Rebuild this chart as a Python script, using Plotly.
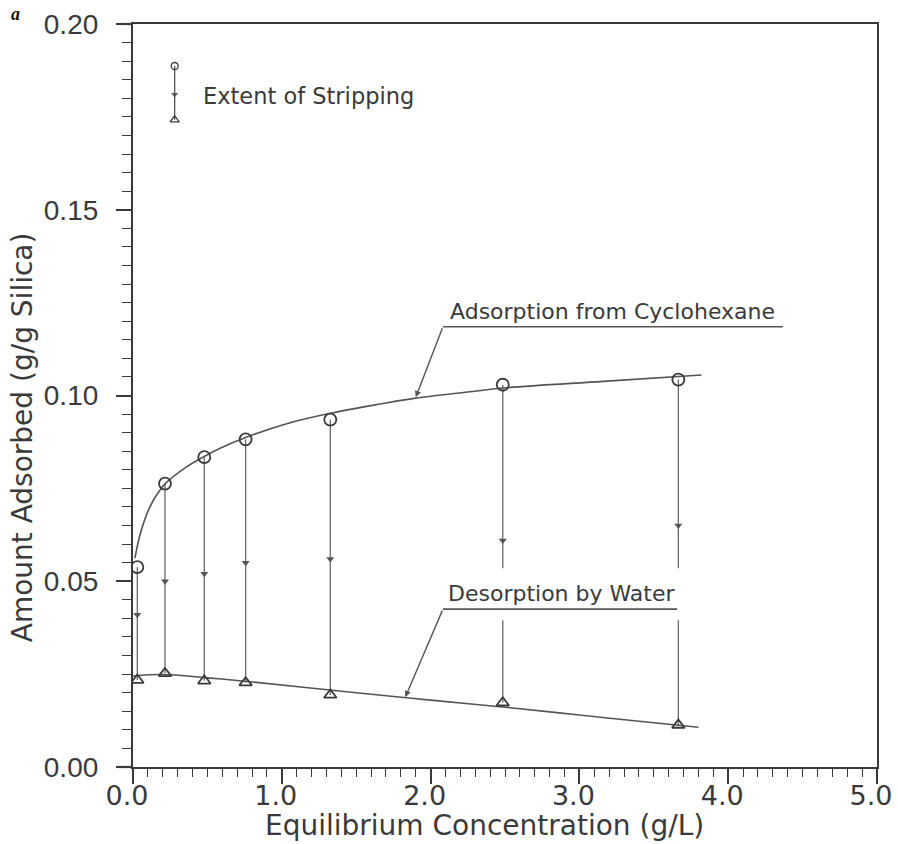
import plotly.graph_objects as go

# ---------------- data ----------------
conc = [0.029, 0.215, 0.479, 0.757, 1.326, 2.485, 3.665]          # g/L
adsorbed = [0.0538, 0.0763, 0.0834, 0.0882, 0.0935, 0.1029, 0.1043]  # from cyclohexane
desorbed = [0.0234, 0.0252, 0.0232, 0.0227, 0.0194, 0.0173, 0.0113]  # after water
arrow_y = [0.041, 0.050, 0.052, 0.055, 0.056, 0.061, 0.065]          # arrowheads on drop lines

ads_curve_x = [0.013, 0.047, 0.092, 0.137, 0.181, 0.215, 0.36, 0.479, 0.585, 0.757,
               1.033, 1.326, 1.66, 1.9, 2.265, 2.485, 3.16, 3.82]
ads_curve_y = [0.0562, 0.0625, 0.0680, 0.0718, 0.0745, 0.0762, 0.0808, 0.0836, 0.0858, 0.0887,
               0.0924, 0.0952, 0.0977, 0.0993, 0.1010, 0.1020, 0.1038, 0.1055]

des_curve_x = [0.0, 0.2, 0.5, 0.8, 1.5, 2.0, 2.5, 3.0, 3.5, 3.8]
des_curve_y = [0.0245, 0.0249, 0.0240, 0.0229, 0.0200, 0.0180, 0.0161, 0.0140, 0.0119, 0.0107]

# key ("Extent of Stripping") sample
key_x = 0.28
key_top = 0.1887
key_arrow = 0.1810
key_bottom = 0.1742

INK = "#3a3a3a"
LINE = "#555555"
TXT_FONT = "DejaVu Sans"

fig = go.Figure()

# drop lines (extent of stripping)
vx, vy = [], []
for c, a, d in zip(conc, adsorbed, desorbed):
    vx += [c, c, None]
    vy += [a, d, None]
fig.add_trace(go.Scatter(x=vx, y=vy, mode="lines",
                         line=dict(color="#6a6a6a", width=1.3), hoverinfo="skip"))
fig.add_trace(go.Scatter(x=conc, y=arrow_y, mode="markers",
                         marker=dict(symbol="triangle-down", size=7, color="#555555"),
                         hoverinfo="skip"))

# fitted curves
fig.add_trace(go.Scatter(x=ads_curve_x, y=ads_curve_y, mode="lines", line_shape="spline",
                         line=dict(color=LINE, width=1.6)))
fig.add_trace(go.Scatter(x=des_curve_x, y=des_curve_y, mode="lines", line_shape="spline",
                         line=dict(color=LINE, width=1.6)))

# data markers
fig.add_trace(go.Scatter(x=conc, y=adsorbed, mode="markers",
                         marker=dict(symbol="circle-open", size=12, color=INK,
                                     line=dict(width=1.8, color=INK))))
fig.add_trace(go.Scatter(x=conc, y=desorbed, mode="markers",
                         marker=dict(symbol="triangle-up-open", size=11, color=INK,
                                     line=dict(width=1.8, color=INK))))

# key sample
fig.add_trace(go.Scatter(x=[key_x, key_x], y=[key_top, key_bottom], mode="lines",
                         line=dict(color="#555555", width=1.3), hoverinfo="skip"))
fig.add_trace(go.Scatter(x=[key_x], y=[key_arrow], mode="markers",
                         marker=dict(symbol="triangle-down", size=6, color="#555555")))
fig.add_trace(go.Scatter(x=[key_x], y=[key_top], mode="markers",
                         marker=dict(symbol="circle-open", size=7, color=INK,
                                     line=dict(width=1.3, color=INK))))
fig.add_trace(go.Scatter(x=[key_x], y=[key_bottom], mode="markers",
                         marker=dict(symbol="triangle-up-open", size=8, color=INK,
                                     line=dict(width=1.3, color=INK))))

shapes = [
    # white mask behind "Desorption by Water" label
    dict(type="rect", xref="x", yref="y", x0=2.05, x1=3.74, y0=0.0395, y1=0.0535,
         fillcolor="white", line=dict(width=0), layer="above"),
    # label underlines
    dict(type="line", xref="x", yref="y", x0=2.083, x1=4.368, y0=0.1185, y1=0.1185,
         line=dict(color=LINE, width=1.6), layer="above"),
    dict(type="line", xref="x", yref="y", x0=2.083, x1=3.656, y0=0.0425, y1=0.0425,
         line=dict(color=LINE, width=1.6), layer="above"),
    # small axis-line overhangs at left
    dict(type="line", xref="paper", yref="paper", x0=-0.016, x1=0, y0=1, y1=1,
         line=dict(color=INK, width=2.2)),
    dict(type="line", xref="paper", yref="paper", x0=-0.02, x1=0, y0=0, y1=0,
         line=dict(color=INK, width=2.2)),
]

annotations = [
    # leader arrows
    dict(x=1.90, y=0.0995, ax=2.083, ay=0.1185, xref="x", yref="y", axref="x", ayref="y",
         text="", showarrow=True, arrowhead=2, arrowsize=0.9, arrowwidth=1.4, arrowcolor=LINE),
    dict(x=1.83, y=0.0188, ax=2.083, ay=0.0425, xref="x", yref="y", axref="x", ayref="y",
         text="", showarrow=True, arrowhead=2, arrowsize=0.9, arrowwidth=1.4, arrowcolor=LINE),
    # labels
    dict(x=3.22, y=0.1185, xref="x", yref="y", yanchor="bottom", yshift=1, showarrow=False,
         text="Adsorption from Cyclohexane", font=dict(family=TXT_FONT, size=22, color=INK)),
    dict(x=2.88, y=0.0425, xref="x", yref="y", yanchor="bottom", yshift=1, showarrow=False,
         text="Desorption by Water", font=dict(family=TXT_FONT, size=22, color=INK)),
    dict(x=0.457, y=0.1806, xref="x", yref="y", xanchor="left", yanchor="middle", showarrow=False,
         text="Extent of Stripping", font=dict(family=TXT_FONT, size=22.5, color=INK)),
    # axis titles
    dict(x=0.4718, y=-0.0794, xref="paper", yref="paper", xanchor="center", yanchor="middle",
         showarrow=False,
         text="Equilibrium Concentration (g/L)", font=dict(family=TXT_FONT, size=28, color=INK)),
    dict(x=-0.149, y=0.444, xref="paper", yref="paper", xanchor="center", yanchor="middle",
         showarrow=False, textangle=-90,
         text="Amount Adsorbed (g/g Silica)", font=dict(family=TXT_FONT, size=28, color=INK)),
    # stray page mark at top-left
    dict(x=-0.1586, y=1.0135, xref="paper", yref="paper", xanchor="center", yanchor="middle",
         showarrow=False,
         text="<b><i>a</i></b>", font=dict(family="Liberation Serif", size=18, color="#111")),
]

fig.update_layout(
    width=898, height=844,
    margin=dict(l=133, r=21, t=24, b=77),
    paper_bgcolor="white", plot_bgcolor="white",
    showlegend=False,
    shapes=shapes, annotations=annotations,
    xaxis=dict(range=[0, 5], tickmode="linear", tick0=0, dtick=1, tickformat=".1f",
               ticks="outside", ticklen=15, tickwidth=1.6, tickcolor=INK,
               minor=dict(dtick=0.1, tick0=0, ticks="outside", ticklen=8, tickwidth=1.4,
                          tickcolor=INK),
               showline=True, linewidth=2.2, linecolor=INK, mirror=True,
               showgrid=False, zeroline=False, automargin=False,
               ticklabeloverflow="allow", ticklabelstandoff=-12, ticklabelshift=-6,
               tickfont=dict(family=TXT_FONT, size=27, color=INK)),
    yaxis=dict(range=[0, 0.2], tickmode="linear", tick0=0, dtick=0.05, tickformat=".2f",
               ticks="outside", ticklen=15, tickwidth=1.6, tickcolor=INK,
               minor=dict(dtick=0.005, tick0=0, ticks="outside", ticklen=9, tickwidth=1.4,
                          tickcolor=INK),
               showline=True, linewidth=2.2, linecolor=INK, mirror=True,
               showgrid=False, zeroline=False, ticklabelstandoff=12, automargin=False,
               ticklabeloverflow="allow",
               tickfont=dict(family="Liberation Sans", size=28, color=INK)),
)

fig.write_html("out.html")
